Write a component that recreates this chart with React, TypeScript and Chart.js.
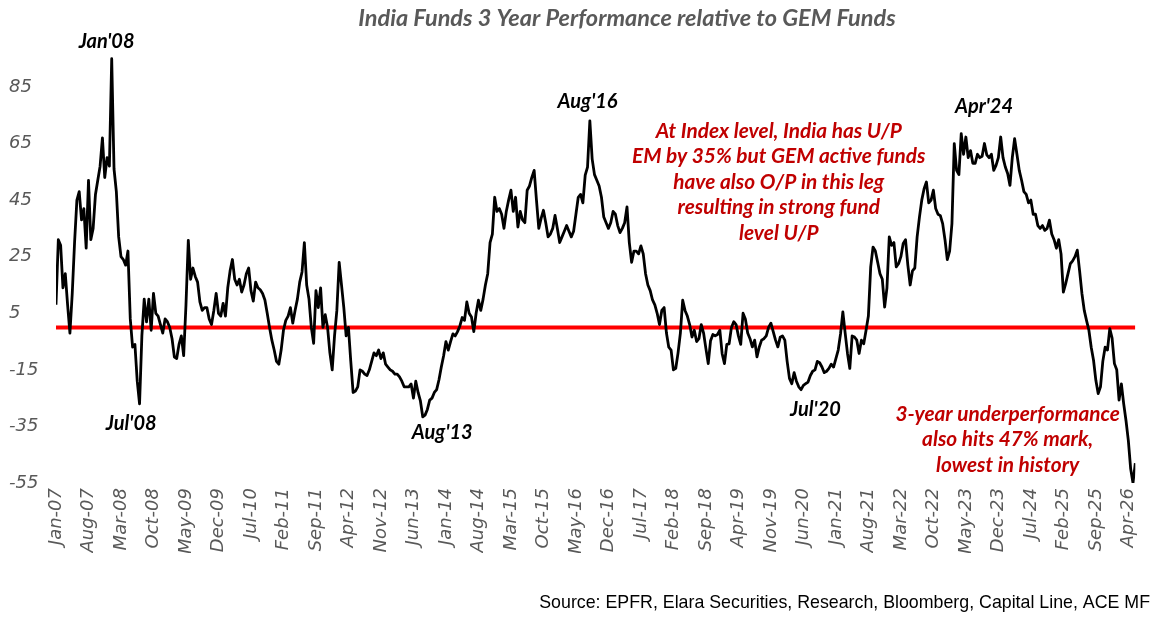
import React, { useEffect, useRef } from 'react';
import { Chart, registerables } from 'chart.js';

Chart.register(...registerables);

// Semi-monthly readings (two per month), India Funds 3Y performance relative to GEM funds (%)
const v2007 = [8, 31, 29, 14, 19, 8, -2, 12, 30, 45, 48, 38, 42, 28, 52, 31, 35, 47, 52, 57, 67, 53, 60, 57];
const v2008 = [95, 56, 48, 32, 25, 24, 22, 27, 3, -7, -6, -19, -27, -3, 10, 2, 10, -1, 12, 5, 4, 1, -2, 3];
const v2009 = [2, 0, -4, -10.5, -11, -6, -3, -10, 8, 30.8, 17, 21, 18, 16, 9, 6, 7, 7, 3, 1, 6, 12, 5, 4];
const v2010 = [8.5, 4, 14, 20, 24, 17, 15, 17, 12.5, 15, 19, 21, 13, 9.3, 16, 14, 13.3, 12, 9.7, 5, 0, -4.5, -8, -12];
const v2011 = [-13, -8, -1, 2.5, 4, 7, 1.5, 6, 10, 16, 19.6, 30, 15, 10, 0, -5.6, 13, 7, 14, 0, 4.5, 0, -9, -15];
const v2012 = [-3, 6, 23, 15, 7, -3, 0, -12, -23, -22.5, -21, -15, -15.5, -16.5, -17, -15, -12, -9, -10, -8, -11, -9, -13, -14];
const v2013 = [-15, -15.5, -16.5, -16.5, -17.5, -19, -21, -21, -21, -20, -25, -19, -23, -26, -31.6, -31, -29, -25.7, -25, -23, -22, -18.5, -14, -10];
const v2014 = [-5, -8, -5, -2.3, -3, -1.5, 0.5, 3.5, 2.5, 9, 5, 3.7, -1.5, 5, 9.6, 6, 10, 15, 19, 30, 33, 46, 41, 42];
const v2015 = [40, 35, 41, 45, 48.5, 41, 46, 35.5, 41, 38, 37, 48.5, 50, 53, 55.5, 45, 35, 38.5, 41.4, 37, 32, 33, 35, 39.6];
const v2016 = [35, 30, 32, 34, 36, 34, 32, 34, 40, 46, 47, 44, 53.8, 56.7, 73, 59.5, 54, 52, 50, 46, 39, 37, 35, 37];
const v2017 = [41, 40, 36, 33.5, 35, 37, 42.6, 30, 23, 27, 27, 26, 28.8, 26, 19, 15, 13, 9.7, 8, 5, 1, 6, 7, -2];
const v2018 = [-7, -8, -15, -14.5, -9, -2, 9.6, 6, 4, 1, -3.4, -1, -5, -4, 1, -2, -7.5, -12.8, -4.7, -2.5, -3, -2.5, -1, -9.3];
const v2019 = [-12.8, -6, -5.8, 0, 2, 1, -3, -6, 5, 3, -2, -4, -6.9, -4.5, -10.4, -6.9, -4.5, -4, -3, 0, 1.5, -1.5, -4.5, -6.9];
const v2020 = [-3.5, -3, -4.5, -12, -18, -19.9, -16, -19, -21, -22, -20.5, -19.9, -19.3, -17, -15.5, -15, -12, -12.5, -14, -16, -15.5, -14.5, -13, -14];
const v2021 = [-11, -8, -2.3, 5.5, -2, -9.2, -14.5, -3, -3.4, -4.5, -9.2, -4.5, -5.8, -1, 4, 21.4, 28.4, 27, 23, 19, 17, 7.2, 14, 32];
const v2022 = [29, 30, 21.4, 22.5, 25, 29.7, 31, 22, 15, 20, 21, 32, 39, 45, 49, 51.4, 44, 45, 48.5, 42, 40, 39.5, 36.7, 31];
const v2023 = [24, 27, 36.7, 65, 55.5, 54, 68.5, 61.2, 67.3, 60, 62.5, 58, 58, 61.2, 60, 60.5, 65, 61, 60, 61.2, 55.5, 57.3, 60, 67.3];
const v2024 = [60, 56.7, 54.4, 50.2, 60, 66.7, 61.2, 55.5, 52, 48, 47, 44, 45, 40, 40, 36, 35, 36, 34.3, 35, 37.9, 33, 31, 28];
const v2025 = [31, 26, 12.5, 15.5, 19, 22.5, 23.5, 25, 27.3, 20, 12, 6, 2.4, -1, -7, -11.6, -18.7, -23.4, -21, -12, -7, -8, -0.4, -3.8];
const v2026 = [-12.8, -15, -25.7, -20, -27, -33, -40, -50, -55, -48];

const yearlySeries = [
  v2007, v2008, v2009, v2010, v2011, v2012, v2013, v2014, v2015, v2016,
  v2017, v2018, v2019, v2020, v2021, v2022, v2023, v2024, v2025, v2026,
];
const pointsPerMonth = 2;

const xTickLabels = [
  'Jan-07', 'Aug-07', 'Mar-08', 'Oct-08', 'May-09', 'Dec-09', 'Jul-10', 'Feb-11', 'Sep-11',
  'Apr-12', 'Nov-12', 'Jun-13', 'Jan-14', 'Aug-14', 'Mar-15', 'Oct-15', 'May-16', 'Dec-16',
  'Jul-17', 'Feb-18', 'Sep-18', 'Apr-19', 'Nov-19', 'Jun-20', 'Jan-21', 'Aug-21', 'Mar-22',
  'Oct-22', 'May-23', 'Dec-23', 'Jul-24', 'Feb-25', 'Sep-25', 'Apr-26',
];
const monthsBetweenLabels = 7;
const yTickValues = [-55, -35, -15, 5, 25, 45, 65, 85];
const baselineValue = 0;

const titleText = 'India Funds 3 Year Performance relative to GEM Funds';
const sourceText = 'Source: EPFR, Elara Securities, Research, Bloomberg, Capital Line, ACE MF';

const periodLabels = [
  { text: "Jan'08", month: 10.9, value: 100.9 },
  { text: "Jul'08", month: 16.2, value: -34.1 },
  { text: "Aug'13", month: 83.2, value: -37.3 },
  { text: "Aug'16", month: 114.5, value: 80.0 },
  { text: "Jul'20", month: 163.6, value: -29.2 },
  { text: "Apr'24", month: 199.9, value: 77.9 },
];
const noteIndex = {
  lines: ['At Index level, India has U/P', 'EM by 35% but GEM active funds', 'have also O/P in this leg', 'resulting in strong fund', 'level U/P'],
  month: 155.7,
  value: 69.4,
};
const noteLow = {
  lines: ['3-year underperformance', 'also hits 47% mark,', 'lowest in history'],
  month: 205.0,
  value: -30.6,
};

const seriesPoints = yearlySeries.flatMap((arr, yi) =>
  arr.map((v, k) => ({ x: yi * 12 + k / pointsPerMonth, y: v }))
);
const lastMonth = seriesPoints[seriesPoints.length - 1].x;

const textPlugin = {
  id: 'chartTexts',
  afterDraw(chart: any) {
    const { ctx, scales } = chart;
    const xs = scales.x;
    const ys = scales.y;
    ctx.save();
    ctx.textAlign = 'center';
    ctx.textBaseline = 'middle';

    ctx.font = 'italic bold 23.5px Lato';
    ctx.fillStyle = '#595959';
    ctx.fillText(titleText, 627, 18);

    ctx.font = 'italic bold 20px Lato';
    ctx.fillStyle = '#000000';
    periodLabels.forEach((p) => {
      ctx.fillText(p.text, xs.getPixelForValue(p.month), ys.getPixelForValue(p.value));
    });

    ctx.font = 'italic bold 20.8px Lato';
    ctx.fillStyle = '#C00000';
    [noteIndex, noteLow].forEach((n) => {
      const cx = xs.getPixelForValue(n.month);
      const cy = ys.getPixelForValue(n.value);
      n.lines.forEach((line, i) => ctx.fillText(line, cx, cy + i * 25.5));
    });

    ctx.font = '17.8px "Liberation Sans"';
    ctx.fillStyle = '#000000';
    ctx.textAlign = 'right';
    ctx.fillText(sourceText, 1150, 603);
    ctx.restore();
  },
};

export default function App() {
  const canvasRef = useRef<HTMLCanvasElement | null>(null);

  useEffect(() => {
    if (!canvasRef.current) return;
    const chart = new Chart(canvasRef.current, {
      type: 'line',
      data: {
        datasets: [
          {
            label: 'India vs GEM',
            data: seriesPoints,
            borderColor: '#000000',
            borderWidth: 2.8,
            pointRadius: 0,
            tension: 0,
            borderJoinStyle: 'round',
          },
          {
            label: 'Zero',
            data: [
              { x: 0, y: baselineValue },
              { x: lastMonth, y: baselineValue },
            ],
            borderColor: '#FF0000',
            borderWidth: 4,
            pointRadius: 0,
          },
        ],
      },
      options: {
        animation: false,
        responsive: false,
        maintainAspectRatio: false,
        layout: { padding: { left: 9, right: 8, top: 53, bottom: 67 } },
        plugins: { legend: { display: false }, tooltip: { enabled: false }, title: { display: false } },
        scales: {
          x: {
            type: 'linear',
            min: 0,
            max: lastMonth,
            grid: { display: false, drawTicks: false },
            border: { display: false },
            afterBuildTicks: (scale: any) => {
              scale.ticks = xTickLabels.map((_, i) => ({ value: i * monthsBetweenLabels }));
            },
            afterFit: (scale: any) => {
              scale.height = 70;
            },
            ticks: {
              autoSkip: false,
              minRotation: 90,
              maxRotation: 90,
              padding: 5,
              color: '#595959',
              font: { family: '"DejaVu Sans"', size: 18, style: 'italic' },
              callback: (_v: any, i: number) => xTickLabels[i],
            },
          },
          y: {
            type: 'linear',
            min: -55,
            max: 97,
            grid: { display: false, drawTicks: false },
            border: { display: false },
            afterBuildTicks: (scale: any) => {
              scale.ticks = yTickValues.map((v) => ({ value: v }));
            },
            afterFit: (scale: any) => {
              scale.width = 47;
            },
            ticks: {
              crossAlign: 'far',
              color: '#595959',
              font: { family: '"DejaVu Sans"', size: 18, style: 'italic' },
              callback: (v: any) => String(v),
            },
          },
        },
      },
      plugins: [textPlugin],
    });
    return () => chart.destroy();
  }, []);

  return (
    <div style={{ position: 'absolute', left: 0, top: 0, width: 1155, height: 620, background: '#ffffff' }}>
      <canvas ref={canvasRef} width={1155} height={620} />
    </div>
  );
}
